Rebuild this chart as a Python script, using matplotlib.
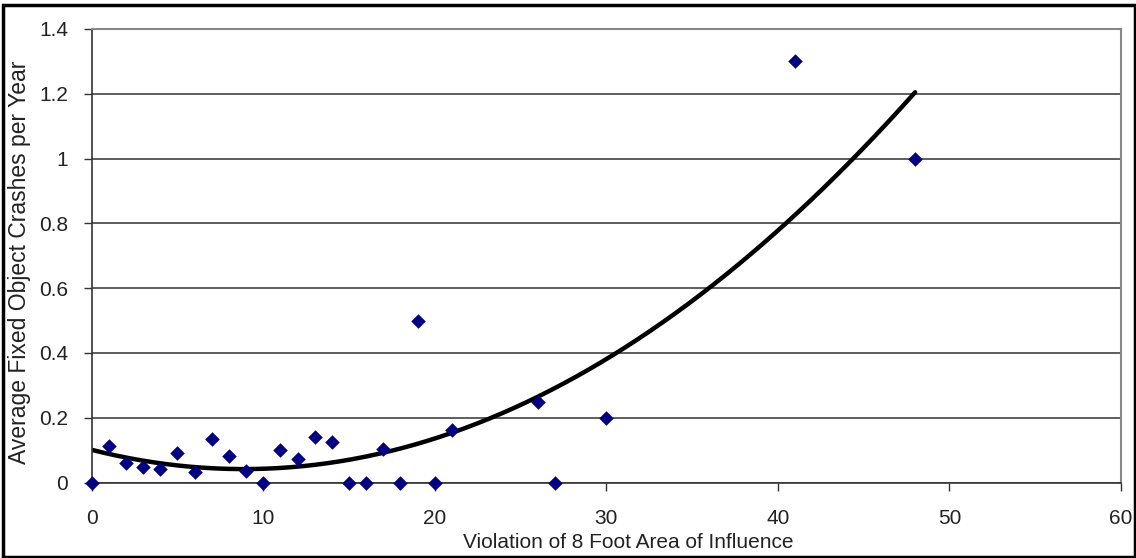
import numpy as np
import matplotlib.pyplot as plt
from matplotlib.patches import Rectangle

# violation (ft) vs average fixed object crashes per year
violation = [0, 1, 2, 3, 4, 5, 6, 7, 8, 9, 10, 11, 12, 13, 14, 15, 16, 17, 18,
             19, 20, 21, 26, 27, 30, 41, 48]
crashes = [0, 0.112, 0.061, 0.048, 0.042, 0.091, 0.032, 0.134, 0.083, 0.035, 0,
           0.10, 0.074, 0.142, 0.126, 0, 0, 0.104, 0, 0.50, 0, 0.163, 0.25, 0,
           0.20, 1.30, 1.00]

x_ticks = [0, 10, 20, 30, 40, 50, 60]
y_ticks = [0, 0.2, 0.4, 0.6, 0.8, 1, 1.2, 1.4]
y_tick_labels = ["0", "0.2", "0.4", "0.6", "0.8", "1", "1.2", "1.4"]

plt.rcParams['font.family'] = ['Liberation Sans', 'DejaVu Sans']

W, H = 1136, 558
fig = plt.figure(figsize=(W / 100, H / 100), dpi=100)
ax = fig.add_axes([91.7 / W, 1 - 482.5 / H, (1121 - 91.7) / W, (482.5 - 29) / H])

# 2nd order polynomial trendline (least squares, like Excel)
coef = np.polyfit(violation, crashes, 2)
xs = np.linspace(min(violation), max(violation), 200)
ax.plot(xs, np.polyval(coef, xs), color='black', lw=3.2, zorder=2, solid_capstyle='round')

ax.scatter(violation, crashes, marker='D', s=55, color='#000080', zorder=3, clip_on=False,
           linewidths=0)

ax.set_xlim(0, 60)
ax.set_ylim(0, 1.4)
ax.set_xticks(x_ticks)
ax.set_yticks(y_ticks)
ax.set_yticklabels(y_tick_labels)
ax.yaxis.grid(True, color='#333333', lw=1.1)
ax.set_axisbelow(True)

ax.tick_params(axis='both', labelsize=15, colors='#333333', labelcolor='#222222',
               direction='out', length=6, width=1)
ax.tick_params(axis='x', pad=13)
ax.tick_params(axis='y', pad=11)
for s in ['top', 'right']:
    ax.spines[s].set_color('#888888')
    ax.spines[s].set_linewidth(1.5)
for s in ['left', 'bottom']:
    ax.spines[s].set_color('#333333')
    ax.spines[s].set_linewidth(1.2)

# axis titles placed like the Excel original
fig.text(628 / W, 1 - 543 / H, "Violation of 8 Foot Area of Influence", fontsize=15,
         color='#222222', ha='center', va='center')
fig.text(20 / W, 1 - 262 / H, "Average Fixed Object Crashes per Year", fontsize=16.5,
         color='#222222', ha='center', va='center', rotation=90)

# outer chart border
fig.patches.append(Rectangle((3 / W, 1.5 / H), 1 - 4 / W, 1 - 6.5 / H,
                             transform=fig.transFigure, fill=False, edgecolor='black', lw=2.5))

fig.savefig("out.png", dpi=100)
